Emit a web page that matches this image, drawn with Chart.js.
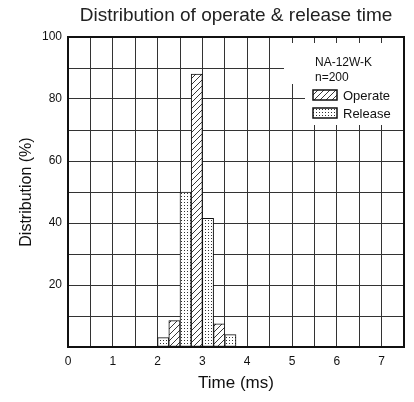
<!DOCTYPE html>
<html>
<head>
<meta charset="utf-8">
<script src="https://cdn.jsdelivr.net/npm/chart.js@4.4.1/dist/chart.umd.min.js"></script>
<style>
  html, body { margin: 0; padding: 0; background: #fff; }
</style>
</head>
<body>
<canvas id="miCanvas" width="414" height="402"></canvas>
<script>
// data (0.5 ms bins, release left half, operate right half)
const releaseTimes = [2.125, 2.625, 3.125, 3.625];
const releasePct = [3, 50, 41.5, 4];
const operateTimes = [2.375, 2.875, 3.375];
const operatePct = [8.5, 88, 7.5];
const xTickLabels = ['0', '1', '2', '3', '4', '5', '6', '7'];
const yTickLabels = ['20', '40', '60', '80', '100'];
const legendHeader = ['NA-12W-K', 'n=200'];

const FONT = "'Liberation Sans', Arial, sans-serif";

// fill patterns
const makeHatch = () => {
    const s = 6;
    const c = document.createElement('canvas');
    c.width = s; c.height = s;
    const g = c.getContext('2d');
    g.fillStyle = '#fff';
    g.fillRect(0, 0, s, s);
    g.strokeStyle = '#222';
    g.lineWidth = 0.9;
    g.beginPath();
    g.moveTo(-1, s + 1); g.lineTo(s + 1, -1);
    g.moveTo(-1, 1); g.lineTo(1, -1);
    g.moveTo(s - 1, s + 1); g.lineTo(s + 1, s - 1);
    g.stroke();
    return g.createPattern(c, 'repeat');
};
const makeDots = () => {
    const c = document.createElement('canvas');
    c.width = 3; c.height = 3;
    const g = c.getContext('2d');
    g.fillStyle = '#fff';
    g.fillRect(0, 0, 3, 3);
    g.fillStyle = '#333';
    g.fillRect(1, 1, 1, 1);
    return g.createPattern(c, 'repeat');
};
const hatch = makeHatch();
const dots = makeDots();

const legendBox = {
    id: 'legendBox',
    beforeDatasetsDraw(chart) {
        const ctx = chart.ctx;
        const a = chart.chartArea;
        ctx.save();
        // white label area over the grid
        ctx.fillStyle = '#fff';
        ctx.beginPath();
        ctx.moveTo(284, a.top + 6);
        ctx.lineTo(a.right - 1, a.top + 6);
        ctx.lineTo(a.right - 1, 125);
        ctx.lineTo(305, 125);
        ctx.lineTo(305, 84);
        ctx.lineTo(284, 84);
        ctx.closePath();
        ctx.fill();
        // keep the 4.0 ms line's lower part
        ctx.strokeStyle = '#333';
        ctx.lineWidth = 1;
        const x5 = Math.round(chart.scales.x.getPixelForValue(5)) + 0.5;
        ctx.beginPath();
        ctx.moveTo(x5, 84);
        ctx.lineTo(x5, 125);
        ctx.stroke();

        ctx.fillStyle = '#111';
        ctx.textBaseline = 'alphabetic';
        ctx.font = '12px ' + FONT;
        ctx.fillText(legendHeader[0], 315, 66);
        ctx.fillText(legendHeader[1], 315, 81);

        const items = [
            { label: chart.data.datasets[0].label, fill: hatch, y: 90 },
            { label: chart.data.datasets[1].label, fill: dots, y: 108 }
        ];
        ctx.font = '13px ' + FONT;
        items.forEach((it) => {
            ctx.fillStyle = it.fill;
            ctx.fillRect(313, it.y, 24, 10);
            ctx.strokeStyle = '#111';
            ctx.lineWidth = 1.5;
            ctx.strokeRect(313, it.y, 24, 10);
            ctx.fillStyle = '#111';
            ctx.fillText(it.label, 343, it.y + 9.5);
        });
        ctx.restore();
    },
    afterDatasetsDraw(chart) {
        const ctx = chart.ctx;
        const a = chart.chartArea;
        ctx.save();
        ctx.strokeStyle = '#111';
        ctx.lineWidth = 2;
        ctx.strokeRect(a.left, a.top, a.right - a.left, a.bottom - a.top);
        ctx.restore();
    }
};

const ctx = document.getElementById('miCanvas').getContext('2d');
window.miChart = new Chart(ctx, {
    type: 'bar',
    data: {
        datasets: [{
            label: 'Operate',
            data: operateTimes.map((t, i) => ({ x: t, y: operatePct[i] })),
            backgroundColor: hatch,
            borderColor: '#111',
            borderWidth: 1,
            borderSkipped: false
        }, {
            label: 'Release',
            data: releaseTimes.map((t, i) => ({ x: t, y: releasePct[i] })),
            backgroundColor: dots,
            borderColor: '#111',
            borderWidth: 1,
            borderSkipped: false
        }]
    },
    options: {
        responsive: false,
        animation: false,
        devicePixelRatio: 1,
        grouped: false,
        barPercentage: 1,
        categoryPercentage: 1,
        layout: { padding: { left: 0, right: 10, top: 0, bottom: 0 } },
        plugins: {
            legend: { display: false },
            tooltip: { enabled: false },
            title: {
                display: true,
                fullSize: false,
                text: 'Distribution of operate & release time',
                color: '#222',
                font: { family: FONT, size: 19, weight: 'normal' },
                padding: { top: 4, bottom: 10.2 }
            }
        },
        scales: {
            x: {
                type: 'linear',
                min: 0,
                max: 7.5,
                offset: false,
                grid: { offset: false, color: '#333', lineWidth: 1, drawTicks: false },
                border: { display: false },
                ticks: {
                    stepSize: 0.5,
                    padding: 7,
                    color: '#111',
                    font: { family: FONT, size: 12 },
                    maxRotation: 0,
                    autoSkip: false,
                    callback: (v) => Number.isInteger(v) ? (xTickLabels[v] ?? '') : ''
                },
                title: {
                    display: true,
                    text: 'Time (ms)',
                    color: '#111',
                    font: { family: FONT, size: 17 },
                    padding: { top: 0, bottom: 8 }
                },
                afterFit: (scale) => { scale.height = 55; }
            },
            y: {
                min: 0,
                max: 100,
                grid: { color: '#333', lineWidth: 1, drawTicks: false },
                border: { display: false },
                ticks: {
                    stepSize: 10,
                    padding: 6,
                    color: '#111',
                    font: { family: FONT, size: 12 },
                    autoSkip: false,
                    callback: (v) => yTickLabels.includes(String(v)) ? String(v) : ''
                },
                title: {
                    display: true,
                    text: 'Distribution (%)',
                    color: '#111',
                    font: { family: FONT, size: 16 },
                    padding: { top: 17, bottom: 0 }
                },
                afterFit: (scale) => { scale.width = 68; }
            }
        }
    },
    plugins: [legendBox]
});
</script>
</body>
</html>
